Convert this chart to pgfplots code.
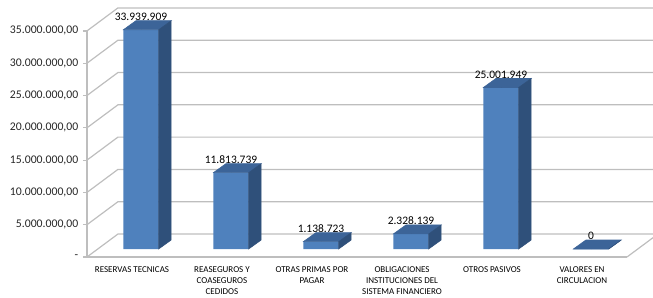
\documentclass[border=0pt]{standalone}
\usepackage{pgfplots}
\usepackage{pgfplotstable}
\pgfplotsset{compat=1.18}
\usepackage{fontspec}
\setmainfont{Carlito}
\definecolor{barfront}{RGB}{79,129,189}
\definecolor{barside}{RGB}{47,80,122}
\definecolor{bartop}{RGB}{60,100,152}
\definecolor{gridc}{RGB}{190,190,190}

\pgfplotstableread{
x   v          lab
0.5 33.939909  33.939.909
1.5 11.813739  11.813.739
2.5 1.138723   1.138.723
3.5 2.328139   2.328.139
4.5 25.001949  25.001.949
5.5 0          0
}\bardata

\begin{document}
\begin{tikzpicture}
\path[use as bounding box] (0,0) rectangle (489.75pt,222.75pt);
\begin{axis}[
  at={(65.25pt,30pt)}, anchor=origin,
  x=67.5pt, y=4.845pt,
  xmin=0, xmax=6, ymin=0, ymax=35,
  clip=false,
  axis lines=left,
  axis line style={draw=gridc, line width=0.9pt, -},
  xtick={0.5,1.5,2.5,3.5,4.5,5.5},
  xticklabels={{RESERVAS TECNICAS},{REASEGUROS Y\\COASEGUROS\\CEDIDOS},{OTRAS PRIMAS POR\\PAGAR},{OBLIGACIONES\\INSTITUCIONES DEL\\SISTEMA FINANCIERO},{OTROS PASIVOS},{VALORES EN\\CIRCULACION}},
  xticklabel style={font=\fontsize{6.75}{8.25}\selectfont, align=center, anchor=north, inner sep=0pt, yshift=-4pt, text=black},
  x tick style={draw=none},
  ytick={0,5,10,15,20,25,30,35},
  yticklabels={{-\hspace{3pt}},{5.000.000,00},{10.000.000,00},{15.000.000,00},{20.000.000,00},{25.000.000,00},{30.000.000,00},{35.000.000,00}},
  yticklabel style={font=\fontsize{8.8}{10}\selectfont, text=black!85},
  y tick style={draw=gridc, line width=0.9pt},
  tick align=outside,
  major tick length=3pt,
]
% back wall, side diagonals and floor
\addplot[gridc, line width=0.9pt] coordinates {(0,0) (0.344,3.56) (6.344,3.56)};
\addplot[gridc, line width=0.9pt] coordinates {(0,5) (0.344,8.56) (6.344,8.56)};
\addplot[gridc, line width=0.9pt] coordinates {(0,10) (0.344,13.56) (6.344,13.56)};
\addplot[gridc, line width=0.9pt] coordinates {(0,15) (0.344,18.56) (6.344,18.56)};
\addplot[gridc, line width=0.9pt] coordinates {(0,20) (0.344,23.56) (6.344,23.56)};
\addplot[gridc, line width=0.9pt] coordinates {(0,25) (0.344,28.56) (6.344,28.56)};
\addplot[gridc, line width=0.9pt] coordinates {(0,30) (0.344,33.56) (6.344,33.56)};
\addplot[gridc, line width=0.9pt] coordinates {(0,35) (0.344,38.56) (6.344,38.56)};
\addplot[gridc, line width=0.9pt] coordinates {(6,0) (6.344,3.56)};
% front faces
\addplot[ybar, bar width=26.5pt, bar shift=0pt, fill=barfront, draw=none,
  xshift=6.75pt, yshift=6pt,
  nodes near coords, point meta=explicit symbolic,
  every node near coord/.append style={font=\fontsize{8.6}{10}\selectfont, text=black, yshift=3.4pt}]
  table[x=x, y=v, meta=lab] {\bardata};
% top and side faces
\addplot[scatter, only marks, mark=*, mark size=0pt, mark options={draw=none, fill=none},
  xshift=6.75pt, yshift=6pt,
  visualization depends on={\thisrow{v} \as \hv},
  scatter/@pre marker code/.code={%
    \pgfmathsetmacro{\hh}{\hv*4.845}%
    \pgfmathsetmacro{\hb}{6.75-\hh}%
    \fill[bartop] (-13.25pt,0pt) -- (13.25pt,0pt) -- (22.65pt,6.75pt) -- (-3.85pt,6.75pt) -- cycle;
    \fill[barside] (13.25pt,0pt) -- (22.65pt,6.75pt) -- (22.65pt,\hb pt) -- (13.25pt,-\hh pt) -- cycle;
  },
  scatter/@post marker code/.code={}]
  table[x=x, y=v] {\bardata};
\end{axis}
\end{tikzpicture}
\end{document}
